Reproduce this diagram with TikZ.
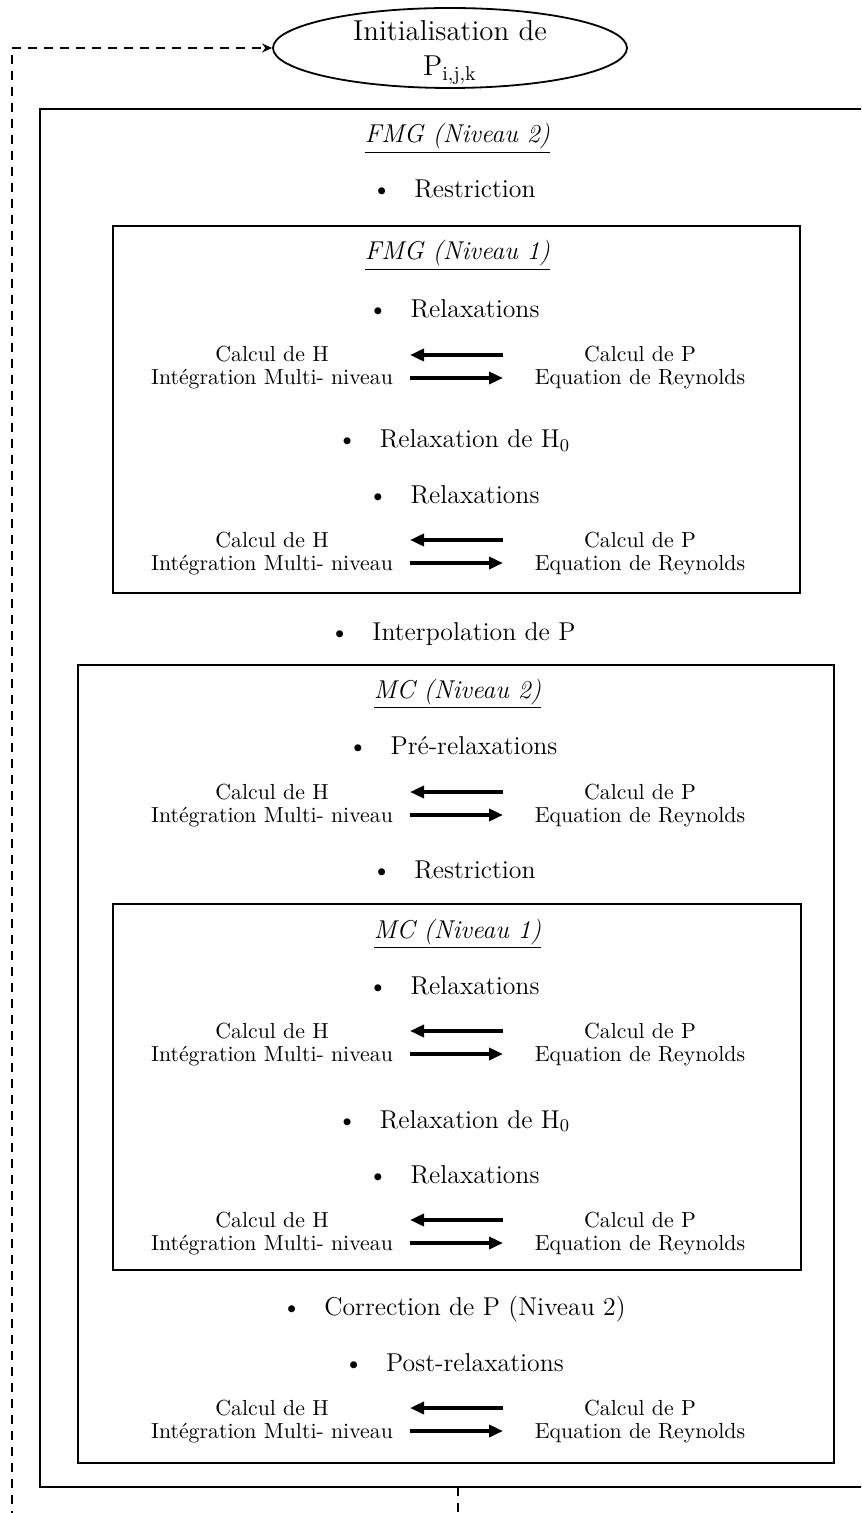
\documentclass[tikz,border=0pt]{standalone}
\usepackage{fontspec}
\usetikzlibrary{arrows.meta,shapes.geometric}

\tikzset{
  frame/.style={draw, line width=0.9pt, inner sep=0pt, outer sep=0pt},
  item/.style={anchor=base, inner sep=0pt, font=\fontsize{12.9}{15}\selectfont},
  heading/.style={anchor=base, inner sep=0pt, font=\fontsize{12.9}{15}\selectfont\itshape},
  calc/.style={anchor=base, inner sep=0pt, font=\fontsize{10.9}{13}\selectfont},
  flow/.style={line width=1.8pt, -{Triangle[length=7pt,width=6pt]}},
  loopline/.style={line width=1.2pt, dash pattern=on 4.5pt off 3.5pt},
}
\newcommand{\bul}{\llap{\textbullet\hspace{11.4pt}}}

\begin{document}
\begin{tikzpicture}[x=0.5pt, y=-0.5pt]
\useasboundingbox (0,0) rectangle (861,1513);
\clip (0,0) rectangle (861,1513);

% start node (size fixed by the minimum dimensions)
\node[draw, ellipse, line width=0.9pt, inner xsep=-12pt, inner ysep=-12pt,
      minimum width=177pt, minimum height=40pt,
      align=center, font=\fontsize{14.4}{16}\selectfont] (init) at (450,48)
      {\rule{0pt}{14.5pt}Initialisation de\\[1.5pt]P$_{\mathrm{i,j,k}}$};

% nested frames
\node[frame, minimum width=418pt, minimum height=689pt] (fmgtwo) at (458,798) {};
\node[frame, minimum width=343.5pt, minimum height=183.5pt] (fmgone) at (456.5,409.5) {};
\node[frame, minimum width=378pt, minimum height=399pt] (mctwo) at (456,1064) {};
\node[frame, minimum width=344pt, minimum height=183pt] (mcone) at (457,1087) {};

% headings and steps
\node[heading] (t1) at (457.5,143) {\underline{FMG (Niveau 2)}};
\node[item] (s1) at (475,198) {\bul Restriction};
\node[heading] (t2) at (457.5,260) {\underline{FMG (Niveau 1)}};
\node[item] (s2) at (475,318) {\bul Relaxations};
\node[item] (s3) at (475,448) {\bul Relaxation de H$_0$};
\node[item] (s4) at (475,503) {\bul Relaxations};
\node[item] (s5) at (474,640) {\bul Interpolation de P};
\node[heading] (t3) at (457.5,698) {\underline{MC (Niveau 2)}};
\node[item] (s6) at (474,754) {\bul Pré-relaxations};
\node[item] (s7) at (475,878) {\bul Restriction};
\node[heading] (t4) at (457.5,938) {\underline{MC (Niveau 1)}};
\node[item] (s8) at (475,994) {\bul Relaxations};
\node[item] (s9) at (475,1128) {\bul Relaxation de H$_0$};
\node[item] (s10) at (475,1183) {\bul Relaxations};
\node[item] (s11) at (475,1315) {\bul Correction de P (Niveau 2)};
\node[item] (s12) at (475,1371) {\bul Post-relaxations};

% exchanges between the film thickness and the pressure solvers
\foreach \n/\y in {a/355,b/540,c/792,d/1031,e/1220,f/1408}{
  \node[calc] (ch\n) at (272,\y+7) {Calcul de H};
  \node[calc] (im\n) at (272,\y+30) {Intégration Multi- niveau};
  \node[calc] (cp\n) at (640,\y+7) {Calcul de P};
  \node[calc] (er\n) at (640,\y+30) {Equation de Reynolds};
  \coordinate (ur\n) at (503,\y);
  \coordinate (ul\n) at (410,\y);
  \coordinate (ll\n) at (410,\y+23);
  \coordinate (lr\n) at (503,\y+23);
  \draw[flow] (ur\n) -- (ul\n);
  \draw[flow] (ll\n) -- (lr\n);
}

% loop back to the initialisation
\coordinate (loopfoot) at (12,1520);
\coordinate (exitfoot) at (458,1520);
\draw[loopline, -{Stealth[length=5pt,width=4.5pt]}] (loopfoot) |- (init.west);
\draw[loopline] (fmgtwo.south) -- (exitfoot);
\end{tikzpicture}
\end{document}
